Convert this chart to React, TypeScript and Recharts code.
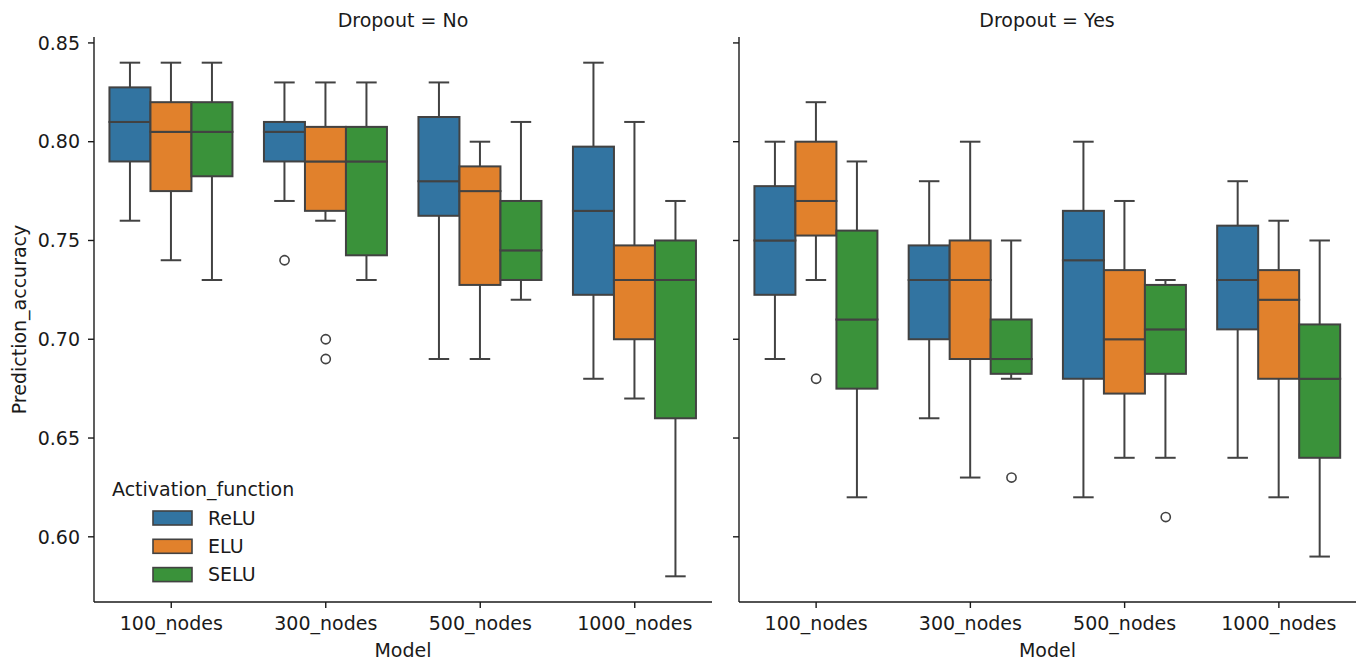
import React from "react";
import { ComposedChart, Bar, Scatter, XAxis, YAxis, Label } from "recharts";

const FONT = "'DejaVu Sans', sans-serif";
const FS = 19;
const INK = "#1a1a1a";
const EDGE = "#424242";

const models = ["100_nodes", "300_nodes", "500_nodes", "1000_nodes"];
const activations = ["ReLU", "ELU", "SELU"];
const colors = ["#3274a1", "#e1812c", "#3a923a"];
const yTicks = [0.6, 0.65, 0.7, 0.75, 0.8, 0.85];

// per model: [lower whisker, q1, median, q3, upper whisker]
const noReLU = [[0.76, 0.79, 0.81, 0.8275, 0.84], [0.77, 0.79, 0.805, 0.81, 0.83], [0.69, 0.7625, 0.78, 0.8125, 0.83], [0.68, 0.7225, 0.765, 0.7975, 0.84]];
const noELU = [[0.74, 0.775, 0.805, 0.82, 0.84], [0.76, 0.765, 0.79, 0.8075, 0.83], [0.69, 0.7275, 0.775, 0.7875, 0.8], [0.67, 0.7, 0.73, 0.7475, 0.81]];
const noSELU = [[0.73, 0.7825, 0.805, 0.82, 0.84], [0.73, 0.7425, 0.79, 0.8075, 0.83], [0.72, 0.73, 0.745, 0.77, 0.81], [0.58, 0.66, 0.73, 0.75, 0.77]];
const yesReLU = [[0.69, 0.7225, 0.75, 0.7775, 0.8], [0.66, 0.7, 0.73, 0.7475, 0.78], [0.62, 0.68, 0.74, 0.765, 0.8], [0.64, 0.705, 0.73, 0.7575, 0.78]];
const yesELU = [[0.73, 0.7525, 0.77, 0.8, 0.82], [0.63, 0.69, 0.73, 0.75, 0.8], [0.64, 0.6725, 0.7, 0.735, 0.77], [0.62, 0.68, 0.72, 0.735, 0.76]];
const yesSELU = [[0.62, 0.675, 0.71, 0.755, 0.79], [0.68, 0.6825, 0.69, 0.71, 0.75], [0.64, 0.6825, 0.705, 0.7275, 0.73], [0.59, 0.64, 0.68, 0.7075, 0.75]];

// [model index, activation index, value]
const noOutliers = [[1, 0, 0.74], [1, 1, 0.7], [1, 1, 0.69]];
const yesOutliers = [[0, 1, 0.68], [1, 2, 0.63], [2, 2, 0.61]];

type Row = Record<string, string | number>;

function buildRows(groups: number[][][]): Row[] {
  return models.map((model, i) => {
    const row: Row = { model };
    groups.forEach((g, h) => {
      const [lo, q1, med, q3, hi] = g[i];
      row[`base${h}`] = lo;
      row[`lw${h}`] = q1 - lo;
      row[`lb${h}`] = med - q1;
      row[`ub${h}`] = q3 - med;
      row[`uw${h}`] = hi - q3;
    });
    return row;
  });
}

// hue dodge: 3 boxes share 0.8 of the category width
const buildOutliers = (list: number[][]) =>
  list.map(([m, h, v]) => ({ x: m + ((h - 1) * 0.8) / 3, y: v }));

const norm = (p: any) => {
  const top = Math.min(p.y, p.y + p.height);
  return { x: p.x, top, w: p.width, h: Math.abs(p.height) };
};

const BoxShape = (p: any) => {
  const { x, top, w, h } = norm(p);
  return <rect x={x} y={top} width={w} height={h} fill={p.fill} stroke={EDGE} strokeWidth={2} />;
};

const LowWhisker = (p: any) => {
  const { x, top, w, h } = norm(p);
  const cx = x + w / 2;
  return (
    <g>
      <line x1={cx} x2={cx} y1={top} y2={top + h} stroke={EDGE} strokeWidth={2} />
      <line x1={cx - w / 4} x2={cx + w / 4} y1={top + h} y2={top + h} stroke={EDGE} strokeWidth={2} />
    </g>
  );
};

const HighWhisker = (p: any) => {
  const { x, top, w, h } = norm(p);
  const cx = x + w / 2;
  return (
    <g>
      <line x1={cx} x2={cx} y1={top} y2={top + h} stroke={EDGE} strokeWidth={2} />
      <line x1={cx - w / 4} x2={cx + w / 4} y1={top} y2={top} stroke={EDGE} strokeWidth={2} />
    </g>
  );
};

const Hidden = () => <g />;

const OutlierShape = (p: any) => (
  <circle cx={p.cx} cy={p.cy} r={4.6} fill="none" stroke={EDGE} strokeWidth={1.6} />
);

const tickStyle = { fill: INK, fontSize: FS, fontFamily: FONT };

function Facet(props: {
  rows: Row[];
  outliers: { x: number; y: number }[];
  left: number;
  width: number;
  yWidth: number;
  right: number;
  showYLabels: boolean;
}) {
  const { rows, outliers, left, width, yWidth, right, showYLabels } = props;
  return (
    <div style={{ position: "absolute", left, top: 0 }}>
      <ComposedChart
        width={width}
        height={661}
        data={rows}
        margin={{ top: 37, right, bottom: 0, left: 0 }}
        barCategoryGap="10%"
        barGap={0}
      >
        <XAxis
          dataKey="model"
          type="category"
          interval={0}
          height={59}
          tickSize={6}
          tickMargin={9}
          axisLine={{ stroke: INK, strokeWidth: 1.4 }}
          tickLine={{ stroke: INK, strokeWidth: 1.4 }}
          tick={tickStyle}
        >
          <Label
            content={({ viewBox }: any) => (
              <text
                x={viewBox.x + viewBox.width / 2}
                y={viewBox.y + 55}
                textAnchor="middle"
                fontSize={FS}
                fontFamily={FONT}
                fill={INK}
              >
                Model
              </text>
            )}
          />
        </XAxis>
        <XAxis xAxisId="num" type="number" dataKey="x" domain={[-0.5, 3.5]} allowDataOverflow hide />
        <YAxis
          type="number"
          domain={[0.567, 0.853]}
          allowDataOverflow
          ticks={yTicks}
          tickFormatter={(v: number) => v.toFixed(2)}
          width={yWidth}
          tickSize={6}
          tickMargin={8}
          axisLine={{ stroke: INK, strokeWidth: 1.4 }}
          tickLine={{ stroke: INK, strokeWidth: 1.4 }}
          tick={showYLabels ? tickStyle : () => <g />}
        >
          {showYLabels && (
            <Label
              content={({ viewBox }: any) => {
                const x = viewBox.x + 26;
                const y = viewBox.y + viewBox.height / 2;
                return (
                  <text
                    x={x}
                    y={y}
                    transform={`rotate(-90, ${x}, ${y})`}
                    textAnchor="middle"
                    fontSize={FS}
                    fontFamily={FONT}
                    fill={INK}
                  >
                    Prediction_accuracy
                  </text>
                );
              }}
            />
          )}
        </YAxis>
        {activations.flatMap((a, h) => [
          <Bar key={`base${h}`} dataKey={`base${h}`} stackId={a} fill="none" shape={Hidden} isAnimationActive={false} />,
          <Bar key={`lw${h}`} dataKey={`lw${h}`} stackId={a} fill={colors[h]} shape={LowWhisker} isAnimationActive={false} />,
          <Bar key={`lb${h}`} dataKey={`lb${h}`} stackId={a} fill={colors[h]} shape={BoxShape} isAnimationActive={false} />,
          <Bar key={`ub${h}`} dataKey={`ub${h}`} stackId={a} fill={colors[h]} shape={BoxShape} isAnimationActive={false} />,
          <Bar key={`uw${h}`} dataKey={`uw${h}`} stackId={a} fill={colors[h]} shape={HighWhisker} isAnimationActive={false} />,
        ])}
        <Scatter
          data={outliers}
          dataKey="y"
          xAxisId="num"
          fill="none"
          shape={OutlierShape}
          isAnimationActive={false}
        />
      </ComposedChart>
    </div>
  );
}

export default function App() {
  const noRows = buildRows([noReLU, noELU, noSELU]);
  const yesRows = buildRows([yesReLU, yesELU, yesSELU]);
  return (
    <div
      style={{
        position: "absolute",
        left: 0,
        top: 0,
        width: 1357,
        height: 661,
        background: "#fff",
        overflow: "hidden",
      }}
    >
      <Facet rows={noRows} outliers={buildOutliers(noOutliers)} left={0} width={720} yWidth={94} right={8} showYLabels />
      <Facet rows={yesRows} outliers={buildOutliers(yesOutliers)} left={720} width={637} yWidth={19} right={1} showYLabels={false} />
      <svg
        width={1357}
        height={661}
        style={{ position: "absolute", left: 0, top: 0, pointerEvents: "none" }}
        fontFamily={FONT}
        fontSize={FS}
        fill={INK}
      >
        <text x={403} y={27} textAnchor="middle">Dropout = No</text>
        <text x={1047} y={27} textAnchor="middle">Dropout = Yes</text>
        <text x={112} y={496}>Activation_function</text>
        {activations.map((a, h) => (
          <g key={a}>
            <rect x={153} y={511 + h * 28.3} width={39} height={14} fill={colors[h]} stroke={EDGE} strokeWidth={1.6} />
            <text x={208} y={524.5 + h * 28.3}>{a}</text>
          </g>
        ))}
      </svg>
    </div>
  );
}
